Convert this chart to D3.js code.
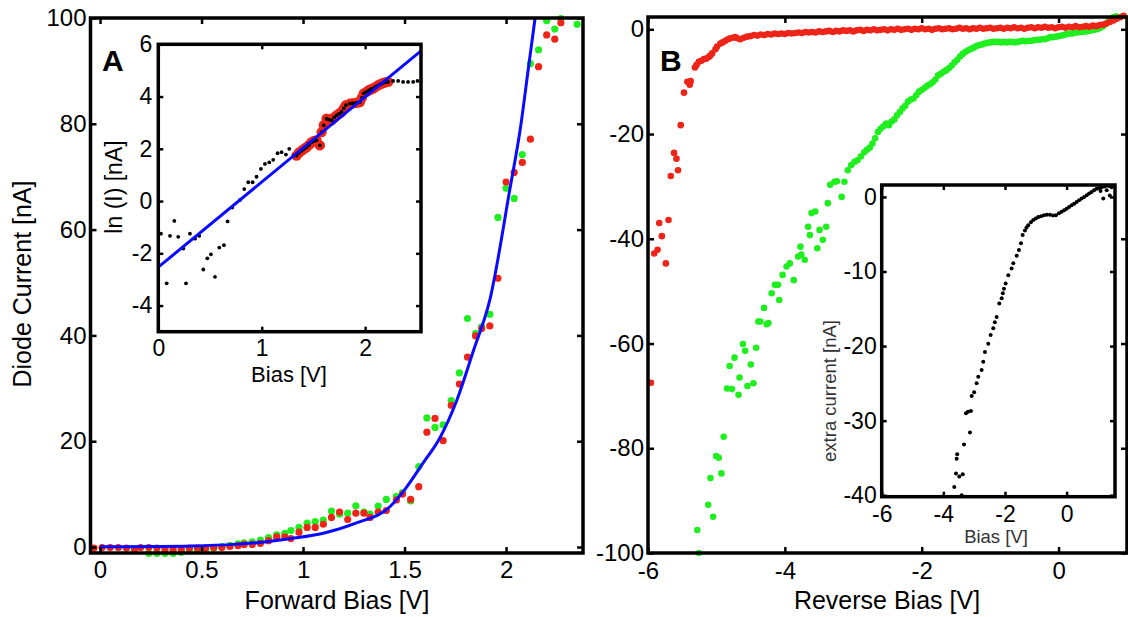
<!DOCTYPE html>
<html>
<head>
<meta charset="utf-8">
<script src="https://cdn.jsdelivr.net/npm/d3@7"></script>
<style>
  body { margin: 0; background: #fff; }
  svg { display: block; }
  text { font-family: "Liberation Sans", Arial, sans-serif; }
</style>
</head>
<body>
<svg id="chart" width="1128" height="617"></svg>
<script>
// ---- panel A, forward bias (V, nA)
const fwdRed = [[-0.03,-0.2],[0.01,-0.1],[0.05,-0.1],[0.09,-0.1],[0.13,-0.2],[0.17,-0.4],[0.20,-0.1],[0.24,-0.1],[0.28,-0.2],[0.32,-0.4],[0.36,-0.4],[0.40,-0.4],[0.44,-0.2],[0.48,-0.2],[0.52,-0.2],[0.56,-0.1],[0.60,-0.1],[0.64,0.1],[0.68,0.25],[0.71,0.5],[0.75,0.5],[0.79,0.7],[0.83,1.2],[0.87,1.9],[0.91,1.9],[0.94,1.6],[0.98,2.8],[1.02,3.7],[1.06,3.7],[1.10,4.3],[1.14,5.6],[1.18,6.6],[1.22,5.2],[1.26,6.4],[1.30,6.4],[1.33,5.6],[1.37,6.6],[1.41,6.9],[1.46,8.9],[1.49,10.0],[1.53,9.0],[1.57,11.4],[1.61,21.7],[1.65,24.3],[1.69,20.1],[1.73,26.8],[1.77,30.8],[1.81,35.9],[1.85,39.9],[1.88,41.3],[1.92,41.8],[1.96,50.8],[2.00,69],[2.04,70.8],[2.08,72.7],[2.12,77.1],[2.16,90.8],[2.20,96.8],[2.24,96],[2.27,99.1]];
const fwdGreen = [[0.24,-1.2],[0.28,-1.2],[0.32,-1.2],[0.36,-1.2],[0.40,-1.0],[0.44,-0.7],[0.48,-0.6],[0.52,-0.4],[0.56,-0.25],[0.60,0.1],[0.64,0.3],[0.68,0.6],[0.71,0.8],[0.75,1.0],[0.79,1.3],[0.83,1.8],[0.87,2.3],[0.91,2.6],[0.94,3.1],[0.98,3.7],[1.02,4.5],[1.06,4.8],[1.10,5.1],[1.14,6.8],[1.18,6.2],[1.22,6.4],[1.26,7.8],[1.30,6.6],[1.33,6.2],[1.37,7.75],[1.41,9.0],[1.46,9.6],[1.49,10.3],[1.53,8.7],[1.57,15.2],[1.61,24.4],[1.65,22.6],[1.69,23.1],[1.73,27.7],[1.77,32.9],[1.81,43.2],[1.85,40.4],[1.88,41.6],[1.92,44],[1.96,62.3],[2.00,67.8],[2.04,65.9],[2.08,74.2],[2.12,91.4],[2.16,94],[2.20,99.5],[2.24,97.9],[2.27,99.9],[2.35,98.8]];
const fwdFitV = [0, 0.25, 0.45, 0.66, 0.80, 0.94, 1.10, 1.26, 1.43, 1.50, 1.59, 1.675, 1.757, 1.84, 1.92, 2.02, 2.07, 2.11, 2.143];
const fwdFitI = [0.05, 0.1, 0.2, 0.5, 0.9, 1.6, 2.6, 4.5, 7.7, 10.8, 15.8, 20.7, 27.7, 37.2, 46.7, 67.9, 79, 90.5, 100];
const fwdXTicks = [0, 0.5, 1, 1.5, 2];
const fwdYTicks = [0, 20, 40, 60, 80, 100];

// ---- inset A, ln(I)
const lnBlack = [[0.026,-1.25],[0.081,-3.15],[0.113,-1.33],[0.155,-0.76],[0.193,-1.37],[0.242,-1.82],[0.268,-3.15],[0.306,-1.25],[0.355,-1.44],[0.396,-1.33],[0.435,-2.62],[0.474,-2.19],[0.509,-2.04],[0.548,-2.9],[0.59,-1.78],[0.635,-1.69],[0.67,-0.78],[0.715,-0.25],[0.79,0.04],[0.831,0.46],[0.87,0.72],[0.912,0.72],[0.95,0.93],[0.992,1.23],[1.031,1.42],[1.073,1.48],[1.111,1.58],[1.153,1.83],[1.192,1.87],[1.234,1.78],[1.266,2.0],[1.31,1.74],[2.27,4.6],[2.319,4.6],[2.367,4.56],[2.415,4.56],[2.464,4.56],[2.506,4.6]];
const lnFitPts = [[1.337,1.74],[1.36,1.85],[1.386,1.93],[1.41,2.0],[1.434,2.06],[1.458,2.15],[1.482,2.25],[1.505,2.3],[1.53,2.32],[1.562,2.13],[1.579,2.64],[1.60,2.9],[1.627,3.15],[1.65,3.12],[1.675,3.09],[1.70,3.2],[1.724,3.28],[1.75,3.35],[1.772,3.41],[1.794,3.55],[1.814,3.67],[1.852,3.73],[1.876,3.74],[1.9,3.75],[1.925,3.77],[1.949,3.79],[1.968,3.95],[1.987,4.12],[2.012,4.18],[2.036,4.24],[2.056,4.28],[2.077,4.31],[2.1,4.37],[2.126,4.43],[2.15,4.48],[2.174,4.52],[2.2,4.55],[2.222,4.56]];
const lnLineV = [0, 2.54];
const lnLineL = [-2.53, 5.75];
const lnXTicks = [0, 1, 2];
const lnYTicks = [-4, -2, 0, 2, 4, 6];

// ---- panel B, reverse bias (V, nA)
const revRed = [[-5.957,-67.5],[-5.909,-42.8],[-5.86,-42.1],[-5.836,-37.0],[-5.797,-39.5],[-5.739,-44.7],[-5.70,-36.4],[-5.667,-28.0],[-5.619,-23.6],[-5.584,-24.7],[-5.561,-26.9],[-5.522,-18.3],[-5.474,-12.1],[-5.425,-10.0],[-5.39,-10.6],[-5.377,-9.9],[-5.314,-7.3],[-5.29,-6.8],[-5.257,-6.2],[-5.22,-6.0],[-5.184,-5.7],[-5.15,-5.6],[-5.112,-5.3],[-5.09,-5.0],[-5.062,-4.6],[-5.014,-3.8],[-4.99,-3.3],[-4.942,-2.7],[-4.91,-2.5],[-4.87,-2.2],[-4.83,-1.9],[-4.797,-1.7],[-4.76,-1.6],[-4.725,-1.5],[-4.69,-1.7],[-4.652,-1.9],
  [-4.60,-1.6],[-4.55,-1.4],[-4.50,-1.3],[-4.45,-1.1],[-4.40,-1.2],[-4.35,-1.0],[-4.30,-1.1],[-4.25,-0.9],[-4.20,-1.0],[-4.15,-0.8],[-4.10,-0.9],[-4.05,-0.8],[-4.00,-0.9],[-3.95,-0.7],[-3.90,-0.8],[-3.85,-0.7],[-3.80,-0.6],[-3.75,-0.7],[-3.70,-0.5],[-3.65,-0.6],[-3.60,-0.5],[-3.55,-0.6],[-3.50,-0.4],[-3.45,-0.5],[-3.40,-0.4],[-3.35,-0.3],[-3.30,-0.5],[-3.25,-0.3],[-3.20,-0.4],[-3.15,-0.2],[-3.10,-0.3],[-3.05,-0.2],[-3.00,-0.4],[-2.95,-0.2],[-2.90,-0.1],[-2.85,-0.3],[-2.80,-0.1],[-2.75,-0.2],[-2.70,0.0],[-2.65,-0.2],[-2.60,-0.1],[-2.55,0.0],[-2.50,-0.2],[-2.45,0.0],[-2.40,-0.1],[-2.35,0.1],[-2.30,-0.1],[-2.25,0.0],[-2.20,0.1],[-2.15,-0.1],[-2.10,0.1],[-2.05,0.0],[-2.00,0.2],[-1.95,0.0],[-1.90,0.1],[-1.85,-0.1],[-1.80,0.1],[-1.75,0.2],[-1.70,0.0],[-1.65,0.1],[-1.60,0.2],[-1.55,0.0],[-1.50,0.1],[-1.45,0.3],[-1.40,0.1],[-1.35,0.2],[-1.30,0.0],[-1.25,0.2],[-1.20,0.1],[-1.15,0.3],[-1.10,0.1],[-1.05,0.2],[-1.00,0.3],[-0.95,0.1],[-0.90,0.2],[-0.85,0.3],[-0.80,0.1],[-0.75,0.3],[-0.70,0.2],[-0.65,0.4],[-0.60,0.2],[-0.55,0.3],[-0.50,0.1],[-0.45,0.3],[-0.40,0.4],[-0.35,0.2],[-0.30,0.4],[-0.25,0.3],[-0.20,0.5],[-0.15,0.3],[-0.10,0.4],[-0.05,0.2],[0.00,0.4],[0.05,0.5],[0.10,0.3],[0.15,0.5],[0.20,0.4],[0.25,0.6],[0.30,0.4],[0.35,0.5],[0.40,0.6],[0.45,0.5],[0.50,0.7],[0.55,0.6],[0.60,0.8],[0.65,0.9],[0.70,1.1],[0.75,1.4],[0.80,1.7],[0.85,2.0],[0.90,2.3],[0.95,2.6]];
const revGreen = [[-5.257,-100],[-5.28,-95.6],[-5.12,-90.8],[-5.048,-93.1],[-5.087,-85.7],[-5.004,-81.5],[-4.966,-81.8],[-4.927,-84.8],[-4.894,-77.8],[-4.845,-68.6],[-4.807,-64.3],[-4.773,-68.7],[-4.735,-62.7],[-4.677,-69.8],[-4.662,-66.5],[-4.613,-60.1],[-4.58,-61.4],[-4.546,-68.1],[-4.497,-64.0],[-4.459,-67.6],[-4.42,-60.8],[-4.387,-55.8],[-4.36,-55.8],[-4.304,-53.2],[-4.265,-56.3],[-4.24,-56.1],[-4.193,-50.4],[-4.145,-48.8],[-4.1,-48.8],[-4.082,-51.7],[-4.033,-46.9],[-3.975,-45.3],[-3.928,-44.7],[-3.87,-47.9],[-3.807,-43.4],[-3.772,-41.5],[-3.76,-43.0],[-3.71,-44.0],[-3.66,-37.7],[-3.635,-39.3],[-3.61,-35.1],[-3.555,-34.8],[-3.526,-41.8],[-3.493,-38.3],[-3.445,-40.2],[-3.396,-37.7],[-3.372,-33.2],[-3.338,-29.7],[-3.275,-29.1],[-3.24,-29.0],[-3.17,-32.0],
  [-3.13,-29.1],[-3.08,-26.9],[-3.03,-25.9],[-2.98,-25.3],[-2.94,-25.0],[-2.89,-24.3],[-2.84,-23.5],[-2.80,-23.0],[-2.76,-22.6],[-2.72,-21.8],[-2.68,-20.8],[-2.64,-19.6],[-2.60,-19.0],[-2.56,-18.5],[-2.52,-18.0],[-2.48,-18.3],[-2.44,-17.6],[-2.40,-17.2],[-2.36,-16.4],[-2.32,-15.8],[-2.28,-15.1],[-2.24,-14.6],[-2.20,-13.8],[-2.16,-13.4],[-2.12,-13.2],[-2.08,-12.6],[-2.04,-11.9],[-2.00,-11.6],[-1.96,-11.2],[-1.92,-10.8],[-1.88,-10.5],[-1.84,-10.1],[-1.80,-9.6],[-1.76,-8.8],[-1.72,-8.5],[-1.68,-8.1],[-1.64,-7.8],[-1.60,-7.4],[-1.56,-6.9],[-1.52,-6.3],[-1.48,-5.8],[-1.44,-5.2],[-1.40,-4.7],[-1.36,-4.3],[-1.32,-4.0],[-1.28,-3.7],[-1.24,-3.5],[-1.20,-3.2],[-1.16,-3.0],[-1.12,-2.9],[-1.08,-2.7],[-1.04,-2.6],[-1.00,-2.5],[-0.96,-2.4],[-0.92,-2.4],[-0.88,-2.4],[-0.84,-2.5],[-0.80,-2.4],[-0.76,-2.5],[-0.72,-2.4],[-0.68,-2.4],[-0.64,-2.5],[-0.60,-2.4],[-0.56,-2.3],[-0.52,-2.2],[-0.48,-2.3],[-0.44,-2.2],[-0.40,-2.2],[-0.36,-2.1],[-0.32,-2.0],[-0.28,-2.0],[-0.24,-1.9],[-0.20,-1.9],[-0.16,-1.7],[-0.12,-1.5],[-0.08,-1.5],[-0.04,-1.4],[0.00,-1.3],[0.04,-1.2],[0.08,-1.1],[0.12,-0.9],[0.16,-0.8],[0.20,-0.8],[0.24,-0.6],[0.28,-0.6],[0.32,-0.5],[0.36,-0.45],[0.40,-0.4],[0.44,-0.3],[0.48,-0.2],[0.52,-0.1],[0.56,0.0],[0.60,0.2],[0.64,0.5],[0.68,0.9],[0.72,1.4],[0.76,1.9],[0.80,2.3],[0.84,2.5]];
const revXTicks = [-6, -4, -2, 0];
const revYTicks = [-100, -80, -60, -40, -20, 0];

// ---- inset B, extra current
const extraBlack = [[-3.645,-38.9],[-3.59,-37.1],[-3.405,-40],[-3.483,-37.5],[-3.37,-37.2],[-3.567,-35.1],[-3.55,-34.5],[-3.33,-33.2],[-3.136,-31.6],[-3.265,-29.0],[-3.2,-28.8],[-3.104,-28.7],[-3.08,-26.7],[-3.0,-26.2],[-2.92,-25.0],[-2.867,-24.1],[-2.757,-23.2],[-2.705,-22.1],[-2.65,-20.8],[-2.542,-19.7],[-2.465,-18.5],[-2.38,-17.6],[-2.33,-16.8],[-2.27,-16.1],[-2.185,-14.3],[-2.108,-13.6],[-2.07,-12.9],[-2.033,-12.3],[-1.978,-11.6],[-1.893,-10.5],[-1.784,-9.6],[-1.73,-8.9],[-1.62,-7.9],[-1.546,-7.1],[-1.481,-6.2],[-1.427,-5.1],[-1.352,-4.5],[-1.3,-4.1],[-1.245,-3.8],[-1.16,-3.4],[-1.083,-3.1],[-1.0,-2.9],[-0.92,-2.7],[-0.83,-2.6],[-0.736,-2.45],[-0.64,-2.4],[-0.54,-2.4],[-0.44,-2.5],[-0.346,-2.45],[-0.25,-2.2],[-0.161,-2.0],[-0.08,-1.8],[0.0,-1.6],[0.08,-1.35],[0.163,-1.1],[0.245,-0.9],[0.325,-0.67],[0.405,-0.45],[0.487,-0.22],[0.57,0.0],[0.65,0.22],[0.73,0.45],[0.81,0.67],[0.89,0.9],[0.973,1.1],[1.05,1.2],[1.135,1.3],[1.22,1.4],[1.3,1.5],[1.38,1.45],[1.46,1.3],[1.19,-0.2],[1.4,0.2],[1.1,0.8],[1.3,0.9]];
const extraXTicks = [-6, -4, -2, 0];
const extraYTicks = [-40, -30, -20, -10, 0];

const RED = "#ee2418", GREEN = "#1fee1f", BLUE = "#0a0aff";
const FONT = "'Liberation Sans', Arial, sans-serif";

let svg = d3.select("#chart");

function makeAxes(box, xDomain, yDomain) {
	let x = d3.scaleLinear().domain(xDomain).range([box.left, box.right]);
	let y = d3.scaleLinear().domain(yDomain).range([box.bottom, box.top]);
	let g = svg.append("g");
	if (box.fill) {
		g.append("rect")
		 .attr("x", box.left).attr("y", box.top)
		 .attr("width", box.right - box.left).attr("height", box.bottom - box.top)
		 .attr("fill", "#fff");
	}
	return {x, y, g, box};
}

// matlab style box: inward ticks on all four sides
function drawFrame(ax, xTicks, yTicks, cfg) {
	let {x, y, g, box} = ax;
	let fmt = (d) => String(d);
	let parts = [
		[d3.axisBottom(x).tickValues(xTicks).tickFormat(fmt).tickPadding(cfg.padX), `translate(0,${box.bottom})`],
		[d3.axisTop(x).tickValues(xTicks).tickFormat(""), `translate(0,${box.top})`],
		[d3.axisLeft(y).tickValues(yTicks).tickFormat(fmt).tickPadding(cfg.padY), `translate(${box.left},0)`],
		[d3.axisRight(y).tickValues(yTicks).tickFormat(""), `translate(${box.right},0)`]
	];
	parts.forEach(([axis, tr]) => {
		let a = g.append("g")
				 .attr("transform", tr)
				 .call(axis.tickSizeInner(-cfg.tick).tickSizeOuter(0));
		a.select(".domain").remove();
		a.attr("font-family", FONT).attr("font-size", cfg.font);
		a.selectAll(".tick line").attr("stroke", "#000").attr("stroke-width", 2.5);
		a.selectAll(".tick text").attr("fill", "#000");
	});
	g.append("rect")
	 .attr("x", box.left).attr("y", box.top)
	 .attr("width", box.right - box.left).attr("height", box.bottom - box.top)
	 .attr("fill", "none").attr("stroke", "#000").attr("stroke-width", 3.5);
}

function dots(ax, data, r, color) {
	ax.g.append("g").selectAll("circle")
		.data(data).enter()
		.append("circle")
		.attr("cx", (d) => ax.x(d[0]))
		.attr("cy", (d) => ax.y(d[1]))
		.attr("r", r)
		.attr("fill", color);
}

function label(txt, x, y, size, opts = {}) {
	let t = svg.append("text")
			   .attr("x", x).attr("y", y)
			   .attr("font-size", size)
			   .attr("text-anchor", opts.anchor || "middle")
			   .attr("fill", opts.color || "#000")
			   .attr("font-weight", opts.bold ? "bold" : null)
			   .text(txt);
	if (opts.rotate) t.attr("transform", `rotate(-90,${x},${y})`);
}

// ---- panel A
let axA = makeAxes({left: 90.5, right: 583, top: 18, bottom: 553}, [-0.047, 2.379], [-1.13, 100]);
dots(axA, fwdGreen, 3.6, GREEN);
dots(axA, fwdRed, 3.6, RED);
let fitLine = d3.line()
				.x((d, i) => axA.x(fwdFitV[i]))
				.y((d) => axA.y(d))
				.curve(d3.curveMonotoneX);
axA.g.append("path")
	 .attr("d", fitLine(fwdFitI))
	 .attr("fill", "none").attr("stroke", BLUE).attr("stroke-width", 3);
drawFrame(axA, fwdXTicks, fwdYTicks, {tick: 6, font: 24, padX: 8, padY: 4});

// inset A
let axIA = makeAxes({left: 158.3, right: 421, top: 44.3, bottom: 331.7, fill: true}, [0, 2.54], [-5, 6]);
dots(axIA, lnFitPts, 5.2, RED);
dots(axIA, lnFitPts, 1.9, "#000");
dots(axIA, lnBlack, 1.9, "#000");
axIA.g.append("line")
	  .attr("x1", axIA.x(lnLineV[0])).attr("y1", axIA.y(lnLineL[0]))
	  .attr("x2", axIA.x(lnLineV[1])).attr("y2", axIA.y(lnLineL[1]))
	  .attr("stroke", BLUE).attr("stroke-width", 3);
drawFrame(axIA, lnXTicks, lnYTicks, {tick: 5, font: 23, padX: 8, padY: 6});

// ---- panel B
let axB = makeAxes({left: 648, right: 1127, top: 17, bottom: 553}, [-6, 1], [-100, 2.35]);
dots(axB, revGreen, 3.3, GREEN);
dots(axB, revRed, 3.3, RED);
drawFrame(axB, revXTicks, revYTicks, {tick: 6, font: 24, padX: 9, padY: 4});

// inset B
let axIB = makeAxes({left: 881.7, right: 1115, top: 185, bottom: 496.7, fill: true}, [-6, 1.57], [-40.2, 1.6]);
dots(axIB, extraBlack, 2, "#000");
drawFrame(axIB, extraXTicks, extraYTicks, {tick: 5, font: 23, padX: 9, padY: 5});

// labels
label("Diode Current [nA]", 31, 284, 25, {rotate: true});
label("Forward Bias [V]", 337, 609, 25);
label("Reverse Bias [V]", 887, 609, 25);
label("ln (I) [nA]", 122, 187, 23, {rotate: true});
label("Bias [V]", 289, 382, 22);
label("Bias [V]", 996, 543, 18.5, {color: "#333"});
label("extra current [nA]", 836, 391, 18.5, {rotate: true, color: "#333"});
label("A", 102, 71, 30, {anchor: "start", bold: true});
label("B", 660, 71, 30, {anchor: "start", bold: true});
</script>
</body>
</html>
